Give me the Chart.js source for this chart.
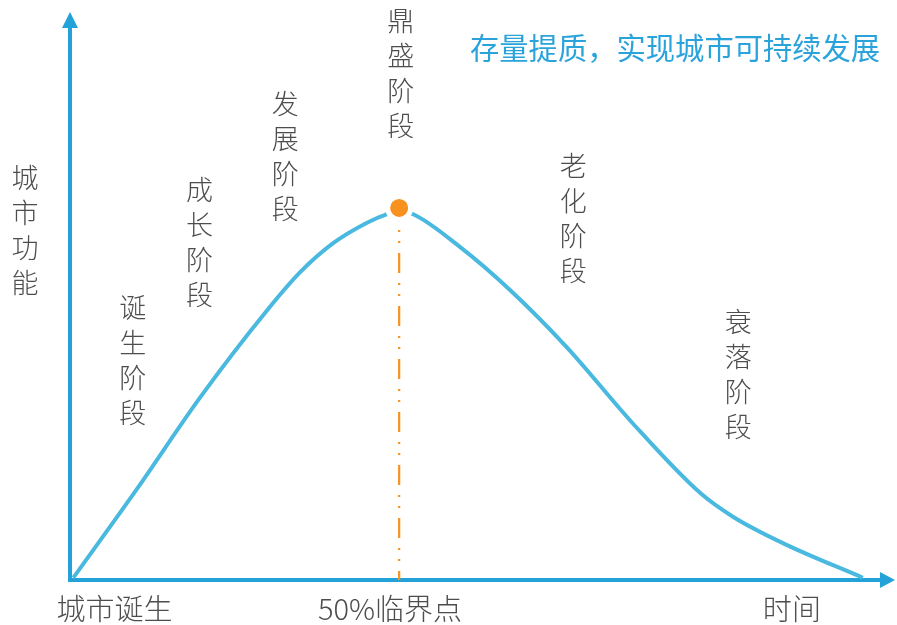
<!DOCTYPE html>
<html>
<head>
<meta charset="utf-8">
<script src="https://cdn.jsdelivr.net/npm/chart.js@4"></script>
<style>
  html, body { margin: 0; padding: 0; background: #fff; }
  #wrap { width: 897px; height: 625px; }
</style>
</head>
<body>
<div id="wrap"><canvas id="lifeChart" width="897" height="625"></canvas></div>
<script>
// curve of city function over time (x: time 0-100, y: function 0-100)
var curveX = [0.4, 8.1, 15.8, 23.9, 27.9, 31.9, 36.0, 38.2, 39.9, 41.6, 47.3, 53.3, 60.2, 68.2, 76.4, 80.4, 86.4, 96.1];
var curveY = [0.4, 16.0, 32.2, 47.5, 54.2, 59.3, 62.9, 64.3, 64.9, 64.4, 58.6, 51.1, 41.0, 27.6, 15.3, 11.1, 6.5, 0.4];
var peakX = 39.9;
var peakY = 65.5;

var stageLabels = ['诞生阶段', '成长阶段', '发展阶段', '鼎盛阶段', '老化阶段', '衰落阶段'];
var stageX = [7.6, 15.7, 26.1, 40.1, 61.0, 81.0];      // label centre, in time units
var stageTopY = [47.9, 68.7, 83.8, 98.4, 72.9, 45.4];  // first character, in function units
var axisLabelY = '城市功能';
var xTickLabels = ['城市诞生', '50%临界点', '时间'];
var xTickPos = [5.4, 38.8, 87.5];
var title = '存量提质，实现城市可持续发展';

(function(){
  var blueAxis = '#22a2d9';
  var blueCurve = '#4ab9df';
  var orange = '#f7921e';
  var textColor = '#4d4d4d';
  var cjk = '"Noto Sans CJK SC", "Noto Sans", sans-serif';

  function pts(xs, ys){
    var out = [];
    for(var i = 0; i < xs.length; i++) out.push({x: xs[i], y: ys[i]});
    return out;
  }

  // arrows for both axes, drawn under the curve
  var axesPlugin = {
    id: 'axes',
    beforeDatasetsDraw: function(chart){
      var ctx = chart.ctx, a = chart.chartArea;
      var ox = a.left, oy = a.bottom;
      ctx.save();
      ctx.strokeStyle = blueAxis;
      ctx.fillStyle = blueAxis;
      ctx.lineWidth = 4;
      ctx.lineCap = 'butt';
      ctx.beginPath();
      ctx.moveTo(ox, oy + 2);
      ctx.lineTo(ox, a.top + 15);
      ctx.moveTo(ox - 2, oy);
      ctx.lineTo(a.right - 14, oy);
      ctx.stroke();
      ctx.beginPath();
      ctx.moveTo(ox, a.top);
      ctx.lineTo(ox - 8, a.top + 16);
      ctx.lineTo(ox + 8, a.top + 16);
      ctx.closePath();
      ctx.fill();
      ctx.beginPath();
      ctx.moveTo(a.right, oy);
      ctx.lineTo(a.right - 15, oy - 8);
      ctx.lineTo(a.right - 15, oy + 8);
      ctx.closePath();
      ctx.fill();
      ctx.restore();
    }
  };

  var textPlugin = {
    id: 'texts',
    afterDraw: function(chart){
      var ctx = chart.ctx;
      var xs = chart.scales.x, ys = chart.scales.y;
      var step = 35;
      ctx.save();
      ctx.textAlign = 'center';
      ctx.textBaseline = 'middle';
      ctx.fillStyle = textColor;
      ctx.font = '300 27px ' + cjk;
      stageLabels.forEach(function(s, i){
        var px = xs.getPixelForValue(stageX[i]);
        var py = ys.getPixelForValue(stageTopY[i]);
        for(var k = 0; k < s.length; k++) ctx.fillText(s[k], px, py + k * step);
      });
      for(var k = 0; k < axisLabelY.length; k++) ctx.fillText(axisLabelY[k], 25, 178 + k * step);
      ctx.font = '300 29px ' + cjk;
      xTickLabels.forEach(function(s, i){
        ctx.fillText(s, xs.getPixelForValue(xTickPos[i]), 609);
      });
      ctx.textAlign = 'left';
      ctx.fillStyle = '#2aa3db';
      ctx.font = '29.3px ' + cjk;
      ctx.fillText(title, 470, 48);
      ctx.restore();
    }
  };

  new Chart(document.getElementById('lifeChart').getContext('2d'), {
    type: 'line',
    data: {
      datasets: [
        {
          label: 'peak',
          data: [{x: peakX, y: peakY}],
          order: 0,
          showLine: false,
          pointRadius: 11.5,
          pointBorderWidth: 5,
          pointBackgroundColor: orange,
          pointBorderColor: '#ffffff'
        },
        {
          label: 'critical',
          data: [{x: peakX, y: peakY}, {x: peakX, y: 0}],
          order: 1,
          borderColor: orange,
          borderWidth: 2.2,
          borderDash: [20, 10, 2, 9, 2, 10],
          borderDashOffset: 8,
          pointRadius: 0
        },
        {
          label: 'function',
          data: pts(curveX, curveY),
          order: 2,
          borderColor: blueCurve,
          borderWidth: 4,
          pointRadius: 0,
          cubicInterpolationMode: 'monotone',
          fill: false
        }
      ]
    },
    options: {
      responsive: false,
      animation: false,
      layout: { autoPadding: false, padding: { left: 70, right: 2, top: 12, bottom: 45 } },
      scales: {
        x: { type: 'linear', min: 0, max: 100, display: false },
        y: { type: 'linear', min: 0, max: 100, display: false }
      },
      plugins: { legend: { display: false }, tooltip: { enabled: false } }
    },
    plugins: [axesPlugin, textPlugin]
  });
})();
</script>
</body>
</html>
